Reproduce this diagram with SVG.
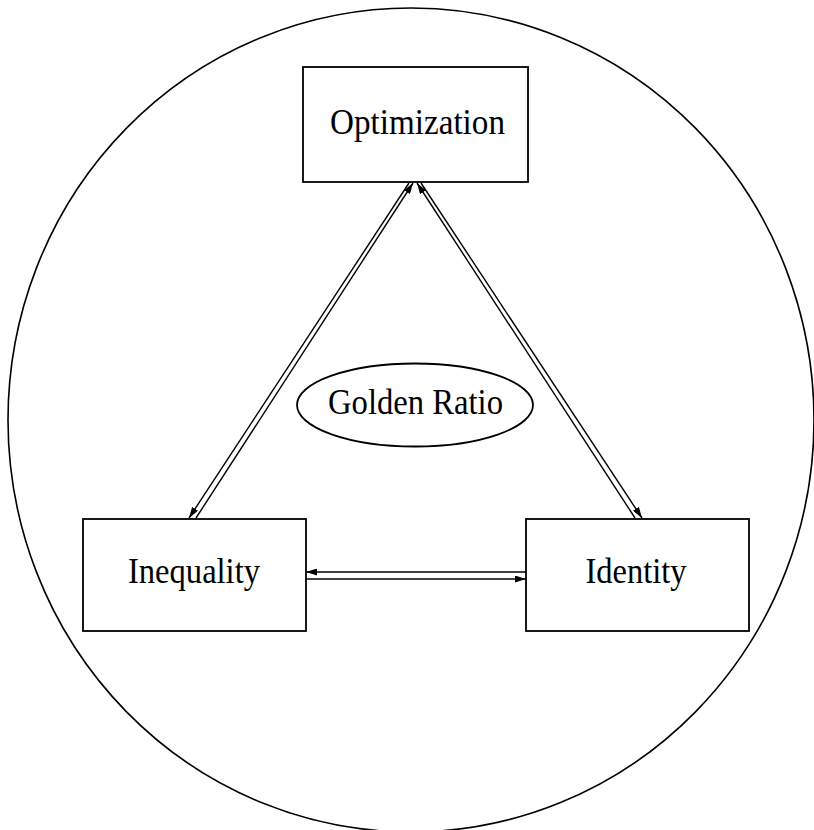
<svg xmlns="http://www.w3.org/2000/svg" width="814" height="830" viewBox="0 0 814 830">
<style>
.box{fill:#fff;stroke:#000;stroke-width:1.8}
.lbl{font-family:"Liberation Serif","DejaVu Serif",serif;font-size:35px;fill:#000;text-anchor:middle}
.c{stroke:#000;stroke-width:1.4;fill:none}
</style>
<defs>
<marker id="ah" viewBox="0 0 11 7" refX="11" refY="3.5" markerWidth="11" markerHeight="7" markerUnits="userSpaceOnUse" orient="auto">
<path d="M0,0 L11,3.5 L0,7 Z" fill="#000"/>
</marker>
</defs>
<rect width="814" height="830" fill="#fff"/>
<ellipse id="outer" cx="411" cy="420" rx="403" ry="412" fill="none" stroke="#000" stroke-width="1.6"/>
<g id="connectors">
<line class="c" x1="409" y1="183" x2="189" y2="518" marker-end="url(#ah)"/>
<line class="c" x1="196" y1="518" x2="413" y2="183" marker-end="url(#ah)"/>
<line class="c" x1="635" y1="518" x2="417" y2="183" marker-end="url(#ah)"/>
<line class="c" x1="421" y1="183" x2="642" y2="518" marker-end="url(#ah)"/>
<line class="c" x1="526" y1="572" x2="306" y2="572" marker-end="url(#ah)"/>
<line class="c" x1="306" y1="579" x2="526" y2="579" marker-end="url(#ah)"/>
</g>
<g id="optimization">
<rect class="box" x="303" y="67" width="225" height="115"/>
<text class="lbl" x="417.5" y="134" textLength="175" lengthAdjust="spacingAndGlyphs">Optimization</text>
</g>
<g id="inequality">
<rect class="box" x="83" y="519" width="223" height="112"/>
<text class="lbl" x="194" y="583" textLength="132" lengthAdjust="spacingAndGlyphs">Inequality</text>
</g>
<g id="identity">
<rect class="box" x="526" y="519" width="223" height="112"/>
<text class="lbl" x="636" y="583" textLength="101" lengthAdjust="spacingAndGlyphs">Identity</text>
</g>
<g id="golden-ratio">
<ellipse cx="415" cy="405" rx="118" ry="41.5" fill="#fff" stroke="#000" stroke-width="1.8"/>
<text class="lbl" x="415.5" y="414" textLength="175" lengthAdjust="spacingAndGlyphs">Golden Ratio</text>
</g>
</svg>
